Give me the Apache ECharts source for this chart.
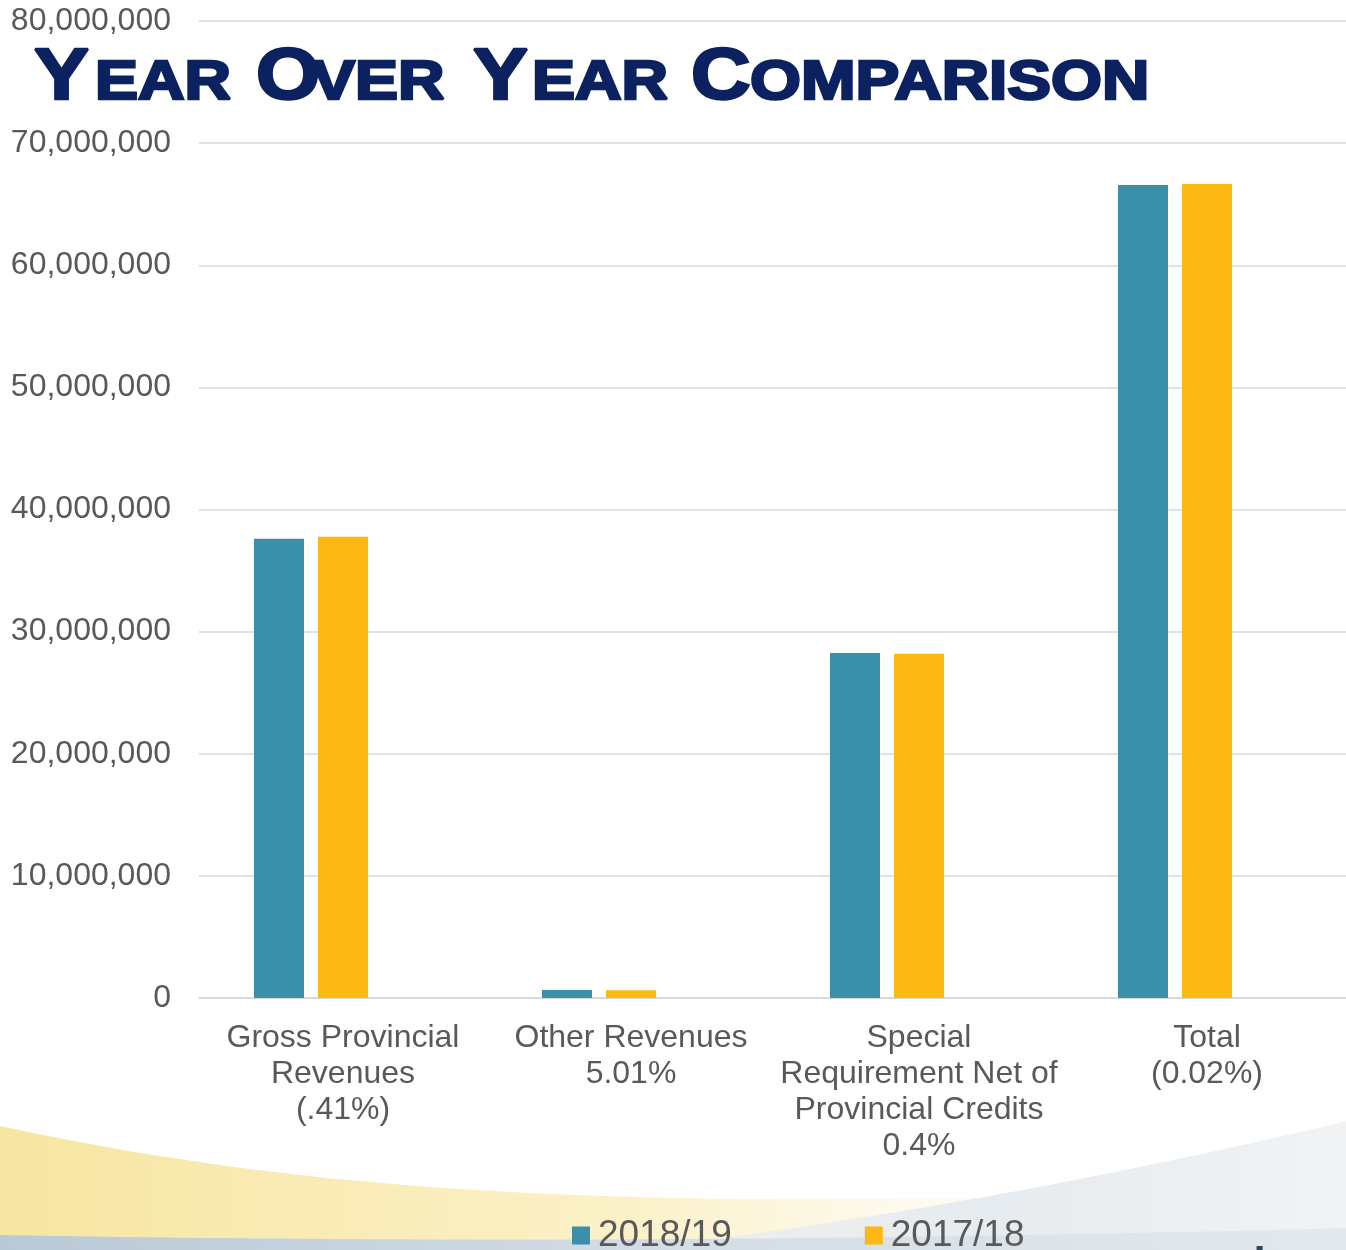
<!DOCTYPE html>
<html>
<head>
<meta charset="utf-8">
<script src="https://cdn.jsdelivr.net/npm/echarts@6/dist/echarts.min.js"></script>
<style>
  html, body { margin: 0; padding: 0; background: #fff; overflow: hidden; }
</style>
</head>
<body>
<div id="yoy" style="width:1351px;height:1250px"></div>
<script>
var categories = [
  'Gross Provincial\nRevenues\n(.41%)',
  'Other Revenues\n5.01%',
  'Special\nRequirement Net of\nProvincial Credits\n0.4%',
  'Total\n(0.02%)'
];
var seriesNames = ['2018/19', '2017/18'];
var values1819 = [37600000, 660000, 28250000, 66580000];
var values1718 = [37760000, 630000, 28180000, 66660000];
// excel chart had a third, empty series - keeps the bars off-centre
var blankSeries = ['-', '-', '-', '-'];
var yTicks = { min: 0, max: 80000000, interval: 10000000 };

var myChart = echarts.init(document.getElementById('yoy'));

var navy = '#0b2160';
var titleFont = '"Liberation Sans", Arial, sans-serif';
// title pieces: [text, x, big?]
var titleParts = [
  ['Y', 34, true], ['EAR', 95, false],
  ['O', 256, true], ['VER', 312, false],
  ['Y', 473, true], ['EAR', 532, false],
  ['C', 691, true], ['OMPARISON', 750, false]
];
var titleGraphics = titleParts.map(function (p) {
  var size = p[2] ? 73 : 56;
  return {
    type: 'text',
    x: p[1],
    y: p[2] ? 79 : 84,
    scaleX: p[2] ? 1.13 : (p[0].length > 3 ? 1.17 : 1.15),
    z: 10,
    style: {
      text: p[0],
      x: 0, y: 0,
      font: 'bold ' + size + 'px ' + titleFont,
      fill: navy,
      stroke: navy,
      lineWidth: 2.6,
      verticalAlign: 'middle'
    }
  };
});

// sample a cubic curve into points for the background swooshes
function curve(p0, p1, p2, p3) {
  var pts = [];
  for (var i = 0; i <= 40; i++) {
    var t = i / 40, u = 1 - t;
    pts.push([
      u*u*u*p0[0] + 3*u*u*t*p1[0] + 3*u*t*t*p2[0] + t*t*t*p3[0],
      u*u*u*p0[1] + 3*u*u*t*p1[1] + 3*u*t*t*p2[1] + t*t*t*p3[1]
    ]);
  }
  return pts;
}

var backGraphics = [
  { // yellow swoosh
    type: 'polygon', z: -10, silent: true,
    shape: { points: curve([0, 1126], [250, 1180], [550, 1215], [1150, 1192]).concat([[1150, 1250], [0, 1250]]) },
    style: {
      fill: new echarts.graphic.LinearGradient(0, 0, 1, 0, [
        { offset: 0, color: '#f7e6a2' },
        { offset: 0.55, color: '#fbf1c8' },
        { offset: 1, color: 'rgba(252,248,230,0)' }
      ])
    }
  },
  { // grey-blue on the right
    type: 'polygon', z: -9, silent: true,
    shape: { points: curve([620, 1250], [850, 1225], [1100, 1180], [1351, 1120]).concat([[1351, 1250]]) },
    style: {
      fill: new echarts.graphic.LinearGradient(0, 0, 1, 0, [
        { offset: 0, color: 'rgba(232,237,241,0.6)' },
        { offset: 0.5, color: '#e6ebef' },
        { offset: 1, color: '#f1f3f5' }
      ])
    }
  },
  { // bottom strip
    type: 'polygon', z: -8, silent: true,
    shape: { points: curve([0, 1235], [400, 1242], [800, 1242], [1351, 1228]).concat([[1351, 1250], [0, 1250]]) },
    style: {
      fill: new echarts.graphic.LinearGradient(0, 0, 1, 0, [
        { offset: 0, color: '#b9c9d6' },
        { offset: 0.5, color: '#d3dde5' },
        { offset: 1, color: '#e3e9ee' }
      ])
    }
  },
  {
    type: 'text', z: 5,
    x: 1045, y: 1244,
    style: {
      text: 'www.sunrisesd.ca',
      font: 'bold 44px ' + titleFont,
      fill: '#29495c',
      verticalAlign: 'top'
    }
  }
];

var option = {
  backgroundColor: '#fff',
  animation: false,
  grid: { left: 199, right: 0, top: 21, bottom: 252, containLabel: false },
  legend: {
    data: seriesNames,
    left: 567,
    top: 1212,
    itemWidth: 18,
    itemHeight: 18,
    itemGap: 133,
    icon: 'rect',
    textStyle: { fontSize: 37, color: '#595959', fontFamily: titleFont, padding: [0, 0, 0, 3] }
  },
  xAxis: {
    type: 'category',
    data: categories,
    axisLine: { lineStyle: { color: '#d9d9d9', width: 2 } },
    axisTick: { show: false },
    axisLabel: {
      fontSize: 32,
      lineHeight: 36,
      color: '#595959',
      fontFamily: titleFont,
      margin: 22,
      interval: 0,
      align: 'center'
    }
  },
  yAxis: {
    type: 'value',
    min: yTicks.min,
    max: yTicks.max,
    interval: yTicks.interval,
    axisLine: { show: false },
    axisTick: { show: false },
    splitLine: { lineStyle: { color: '#d9d9d9', width: 1.5 } },
    axisLabel: {
      fontSize: 32,
      color: '#595959',
      fontFamily: titleFont,
      margin: 28,
      formatter: function (v) { return v.toLocaleString('en-US'); }
    }
  },
  series: [
    {
      name: seriesNames[0], type: 'bar', data: values1819,
      barWidth: 50, barGap: '28%',
      itemStyle: { color: '#3990a8' }
    },
    {
      name: seriesNames[1], type: 'bar', data: values1718,
      barWidth: 50, barGap: '28%',
      itemStyle: { color: '#fdb813' }
    },
    {
      name: 'blank', type: 'bar', data: blankSeries,
      barWidth: 50, barGap: '28%',
      itemStyle: { color: 'transparent' }
    }
  ],
  graphic: backGraphics.concat(titleGraphics)
};

myChart.setOption(option);
</script>
</body>
</html>
